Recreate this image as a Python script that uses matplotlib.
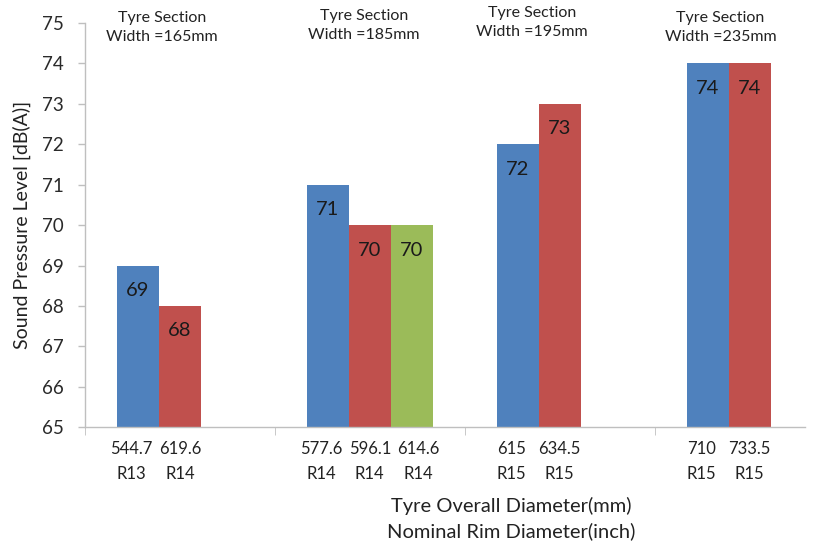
import matplotlib
matplotlib.use("Agg")
import matplotlib.pyplot as plt
import numpy as np

plt.rcParams['font.family'] = ['Lato', 'DejaVu Sans']

# Tyre section widths (one group each)
section_widths = ["165mm", "185mm", "195mm", "235mm"]

# Sound pressure level per tyre, three tyres max per section width
spl_a = [69, 71, 72, 74]
spl_b = [68, 70, 73, 74]
spl_c = [None, 70, None, None]

# Overall diameter (mm) and nominal rim size for each tyre
diam_a = ["544.7", "577.6", "615", "710"]
diam_b = ["619.6", "596.1", "634.5", "733.5"]
diam_c = [None, "614.6", None, None]
rim_a = ["R13", "R14", "R15", "R15"]
rim_b = ["R14", "R14", "R15", "R15"]
rim_c = [None, "R14", None, None]

colors = ["#4F81BD", "#C0504D", "#9BBB59"]

fig = plt.figure(figsize=(8.33, 5.47), dpi=100)
ax = fig.add_axes([0.102, 0.219, 0.864, 0.739])

base = 65
bw = 0.221
x = np.arange(len(section_widths))
offsets = [-bw, 0.0, bw]
series = [(spl_a, diam_a, rim_a), (spl_b, diam_b, rim_b), (spl_c, diam_c, rim_c)]

tick_pos, tick_lab = [], []
for (vals, diams, rims), off, col in zip(series, offsets, colors):
    for i, (v, d, r) in enumerate(zip(vals, diams, rims)):
        if v is None:
            continue
        xp = x[i] + off
        ax.bar(xp, v - base, bottom=base, width=bw, color=col, edgecolor='none')
        ax.text(xp, v - 0.62, f"{v}", ha='center', va='center', fontsize=14.5, color='#1a1a1a')
        # category labels sit slightly wider apart than the bars
        tick_pos.append(x[i] + off * 1.15)
        tick_lab.append(f"{d}\n{r}")

ax.set_ylim(65, 75)
ax.set_xlim(-0.5, 3.29)
ax.set_yticks(range(65, 76))
ax.tick_params(axis='y', labelsize=13.5, length=5.2, width=1.0, color='#BFBFBF',
               direction='out', pad=10, labelcolor='#2a2a2a')

ax.set_xticks(tick_pos)
ax.set_xticklabels(tick_lab, fontsize=12, linespacing=1.7, color='#222222')
ax.tick_params(axis='x', which='major', length=0, pad=10)
ax.set_xticks(np.arange(-0.5, 3.3, 1.0), minor=True)
ax.tick_params(axis='x', which='minor', length=6, color='#BFBFBF', direction='out')

for s in ['top', 'right']:
    ax.spines[s].set_visible(False)
for s in ['left', 'bottom']:
    ax.spines[s].set_color('#BFBFBF')
    ax.spines[s].set_linewidth(1.0)

# Section width notes above each group
note_x = [-0.095, 0.968, 1.853, 2.847]
note_y = [74.89, 74.94, 75.01, 74.89]
for w, nx, ny in zip(section_widths, note_x, note_y):
    ax.text(nx, ny, f"Tyre Section\nWidth =" + w, ha='center', va='center',
            fontsize=11.5, linespacing=1.4, color='#222222', clip_on=False)

fig.text(0.026, 0.589, "Sound Pressure Level [dB(A)]", rotation=90,
         ha='center', va='center', fontsize=14, color='#222222')
fig.text(0.614, 0.052, "Tyre Overall Diameter(mm)\nNominal Rim Diameter(inch)",
         ha='center', va='center', fontsize=14.5, linespacing=1.45, color='#222222')

fig.savefig("out.png", dpi=100)
